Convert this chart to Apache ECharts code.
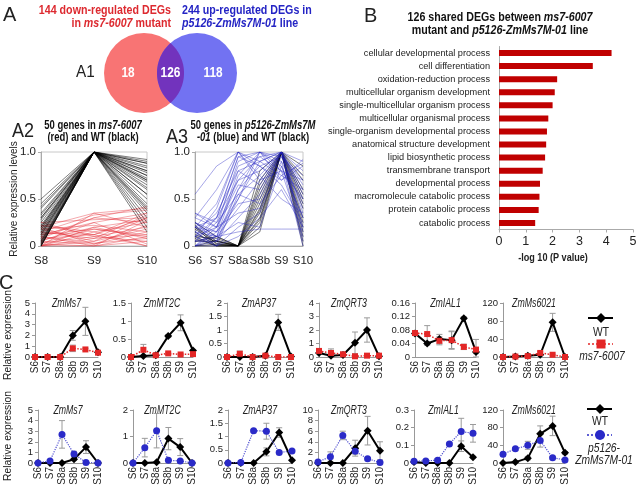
<!DOCTYPE html>
<html><head><meta charset="utf-8">
<script src="https://cdn.jsdelivr.net/npm/echarts@6/dist/echarts.min.js"></script>
<style>html,body{margin:0;padding:0;background:#fff}#c{width:640px;height:491px}</style>
</head><body><div id="c"></div>
<script>
const FONT = "'Liberation Sans',Arial,sans-serif";

// ---------- Panel A1 (Venn) ----------
const vennCounts = [18, 126, 118];

// ---------- Panel A2 ----------
const a2Stages = ['S8', 'S9', 'S10'];
const a2WT = [
  [0.50,1,0.92],[0.45,1,0.90],[0.42,1,0.88],[0.40,1,0.85],[0.35,1,0.83],[0.33,1,0.80],
  [0.30,1,0.78],[0.28,1,0.75],[0.25,1,0.72],[0.22,1,0.70],[0.20,1,0.68],[0.18,1,0.65],
  [0.17,1,0.62],[0.15,1,0.60],[0.14,1,0.55],[0.12,1,0.50],[0.10,1,0.45],[0.08,1,0.42],
  [0.06,1,0.38],[0.05,1,0.35],[0.04,1,0.30],[0.03,1,0.25],[0.02,1,0.20],[0.00,1,0.15],
  [0.00,1,0.88],[0.00,1,0.80],[0.01,1,0.70],[0.12,1,0.55],[0.20,1,0.40],[0.30,1,0.75]
];
const a2Mut = [
  [0.20,0.35,0.40],[0.15,0.33,0.38],[0.10,0.30,0.42],[0.25,0.28,0.30],[0.05,0.25,0.35],
  [0.18,0.22,0.15],[0.00,0.20,0.28],[0.12,0.18,0.10],[0.22,0.15,0.25],[0.08,0.12,0.30],
  [0.03,0.10,0.20],[0.15,0.08,0.12],[0.00,0.05,0.18],[0.10,0.03,0.08],[0.02,0.00,0.10],
  [0.25,0.10,0.05],[0.00,0.15,0.00],[0.05,0.02,0.22],[0.18,0.05,0.30],[0.00,0.00,0.05],
  [0.12,0.25,0.02],[0.03,0.18,0.12],[0.20,0.02,0.15],[0.08,0.30,0.25],[0.00,0.08,0.33],
  [0.14,0.12,0.00],[0.06,0.20,0.08],[0.00,0.35,0.20],[0.10,0.00,0.27],[0.22,0.12,0.35]
];

// ---------- Panel A3 ----------
const a3Stages = ['S6', 'S7', 'S8a', 'S8b', 'S9', 'S10'];
const a3WT = [
  [0.20,0.05,0,0.80,1,0.85],[0.10,0.00,0,0.70,1,0.70],[0.25,0.10,0,0.60,1,0.50],
  [0.05,0.05,0,0.50,1,0.30],[0.15,0.00,0,0.45,1,0.10],[0.00,0.02,0,0.40,1,0.00],
  [0.10,0.08,0,0.35,1,0.60],[0.20,0.00,0,0.30,1,0.40],[0.05,0.10,0,0.25,1,0.20],
  [0.00,0.00,0,0.20,1,0.75],[0.12,0.05,0,0.15,1,0.45],[0.18,0.03,0,0.55,1,0.05],
  [0.08,0.00,0,0.65,1,0.25],[0.00,0.06,0,0.38,1,0.55],[0.22,0.02,0,0.28,1,0.15]
];
const a3Mut = [
  [0.55,0.85,1.00,0.90,0.75,0.60],[0.30,0.60,1.00,0.85,0.95,0.70],[0.20,0.45,1.00,0.70,0.80,0.50],
  [0.10,0.30,0.95,1.00,0.85,0.30],[0.35,0.20,0.90,1.00,0.70,0.85],[0.15,0.10,0.75,1.00,0.95,0.40],
  [0.05,0.25,0.85,0.95,1.00,0.20],[0.25,0.05,0.60,1.00,0.80,0.10],[0.00,0.15,0.50,0.90,1.00,0.65],
  [0.20,0.30,0.70,0.80,1.00,0.90],[0.10,0.00,0.55,0.75,1.00,0.50],[0.30,0.20,0.65,0.60,1.00,0.35],
  [0.00,0.10,0.40,0.70,1.00,0.80],[0.15,0.35,0.80,0.65,1.00,0.55],[0.05,0.05,0.30,0.55,1.00,0.15],
  [0.25,0.15,0.45,0.50,0.95,0.75],[0.10,0.20,0.35,0.40,1.00,0.60],[0.00,0.00,0.20,0.35,0.90,0.45],
  [0.20,0.10,0.25,0.20,0.85,0.30],[0.35,0.25,0.55,0.45,0.75,0.88],[0.05,0.30,0.95,0.85,0.65,0.25],
  [0.15,0.00,0.10,0.30,0.60,0.20],[0.00,0.20,0.70,0.95,0.80,0.70],[0.10,0.40,1.00,0.75,0.50,0.35],
  [0.25,0.10,0.15,0.18,0.18,0.18],[0.00,0.05,0.50,1.00,0.90,0.00],[0.20,0.15,0.80,0.90,1.00,0.05],
  [0.05,0.10,0.60,0.85,0.70,0.92]
];

// ---------- Panel B ----------
const goTerms = [
  'cellular developmental process','cell differentiation','oxidation-reduction process',
  'multicellular organism development','single-multicellular organism process',
  'multicellular organismal process','single-organism developmental process',
  'anatomical structure development','lipid biosynthetic process','transmembrane transport',
  'developmental process','macromolecule catabolic process','protein catabolic process','catabolic process'
];
const goValues = [4.2, 3.5, 2.17, 2.08, 2.0, 1.84, 1.79, 1.76, 1.72, 1.63, 1.53, 1.51, 1.48, 1.35];
const bTicks = [0, 1, 2, 3, 4, 5];

// ---------- Panel C ----------
const cStages = ['S6', 'S7', 'S8a', 'S8b', 'S9', 'S10'];
const cGenes = ['ZmMs7', 'ZmMT2C', 'ZmAP37', 'ZmQRT3', 'ZmIAL1', 'ZmMs6021'];
const cTopMax = [5, 1.5, 2, 4, 0.16, 120];
const cTopStep = [1, 0.5, 0.5, 1, 0.04, 40];
const cBotMax = [5, 2, 2, 10, 0.3, 120];
const cBotStep = [1, 1, 0.5, 2, 0.1, 40];

const cTopWT = [
  [0,0,0,2.0,3.3,0.45],[0,0.03,0.05,0.58,0.95,0.18],[0,0,0,0.05,1.28,0.02],
  [0.3,0.1,0.15,1.05,2.0,0.05],[0.07,0.04,0.053,0.05,0.115,0.015],[0,1,3,5,77,0]
];
const cTopWTErr = [
  [0,0,0,0.45,1.3,0.1],[0,0,0,0.04,0.22,0.02],[0,0,0,0.03,0.3,0],
  [0,0.05,0.2,0.8,0.9,0],[0.005,0.005,0.014,0.027,0.004,0.005],[0,0.5,1,2,20,0]
];
const cTopMut = [
  [0,0,0,0.8,0.7,0.4],[0,0.2,0.05,0.1,0.07,0.08],[0,0.12,0,0.05,0,0],
  [0.45,0.3,0.2,0.05,0.1,0.1],[0.071,0.068,0.048,0.05,0.03,0.022],[0,1,2,9,5,0]
];
const cTopMutErr = [
  [0,0,0,0.3,0.1,0.1],[0,0.15,0.02,0.03,0.02,0.02],[0,0.1,0,0.02,0,0],
  [0.1,0.3,0.1,0.02,0.05,0.02],[0.005,0.025,0.012,0.025,0.008,0.03],[0,0.5,1,3,1,0]
];
const cBotWT = [
  [0,0,0,0.35,1.5,0],[0,0,0.03,0.92,0.6,0],[0,0,0,0.42,1.15,0.1],
  [0,0,0,2.8,6.1,2.3],[0.005,0,0,0,0.095,0.033],[0,2,11,66,84,23]
];
const cBotWTErr = [
  [0,0,0,0.1,0.6,0],[0,0,0,0.42,0.32,0],[0,0,0,0.15,0.18,0.02],
  [0,0,0,1.5,2.7,1.7],[0,0,0,0,0.03,0.005],[0,1,4,18,22,3]
];
const cBotOE = [
  [0,0.2,2.7,0.85,0.05,0],[0,0.58,1.22,0.1,0.08,0],[0,0.02,1.22,1.2,0.4,0.45],
  [0.2,1.2,5.2,2.2,0.8,0.1],[0.01,0.012,0.016,0.108,0.178,0.168],[20,32,40,51,12,7]
];
const cBotOEErr = [
  [0,0.1,1.3,0.25,0,0],[0,0.35,0.65,0.03,0.02,0],[0,0,0.05,0.3,0.05,0.05],
  [0,0.9,0.8,0.5,0.2,0],[0,0.005,0.01,0.005,0.075,0.05],[2,3,9,15,3,2]
];

// ---------- layout ----------
const cTopGrids = [[35,63],[131,62],[227,64],[319,60],[415,61],[503,62]];
const cBotGrids = [[38,60],[133,59],[228,64],[318,62],[414,59],[503,62]];
const RED = '#e32626', BLUE = '#2a2ac8', GRAY = '#9a9a9a', TXT = '#222';
const SX = 0.79;

const grid = [], xAxis = [], yAxis = [], series = [], graphic = [];

// ---------- text helpers ----------
function T(x, y, text, font, opts) {
  const o = Object.assign({align: 'left', vAlign: 'middle', fill: TXT, rot: 0, rich: null, sx: SX}, opts || {});
  const st = {text: text, fill: o.fill, font: font, align: o.align, verticalAlign: o.vAlign, textAlign: o.align, textVerticalAlign: o.vAlign};
  if (o.rich) st.rich = o.rich;
  graphic.push({type: 'text', x: x, y: y, rotation: o.rot, scaleX: o.sx, style: st});
}
function rich(size, color, lh) {
  const base = {fontFamily: FONT, fontSize: size, fill: color, color: color, lineHeight: lh};
  return {
    b: Object.assign({}, base, {fontWeight: 'bold'}),
    bi: Object.assign({}, base, {fontWeight: 'bold', fontStyle: 'italic'}),
    n: Object.assign({}, base),
    i: Object.assign({}, base, {fontStyle: 'italic'})
  };
}

// Venn grid (0)
grid.push({left: 100, top: 32, width: 140, height: 82});
xAxis.push({gridIndex: 0, type: 'value', min: 0, max: 140, show: false});
yAxis.push({gridIndex: 0, type: 'value', min: 0, max: 82, show: false});
series.push({
  type: 'custom', xAxisIndex: 0, yAxisIndex: 0, silent: true, data: [[0, 0]],
  renderItem: function (params, api) {
    const c1 = api.coord([44, 41]), c2 = api.coord([97, 41]);
    const r = api.size([40, 0])[0];
    const d = c2[0] - c1[0];
    const al = Math.acos(d / 2 / r);
    const pts = [];
    for (let k = 0; k <= 40; k++) { const t = -al + 2 * al * k / 40; pts.push([c1[0] + r * Math.cos(t), c1[1] + r * Math.sin(t)]); }
    for (let k = 0; k <= 40; k++) { const t = Math.PI - al + 2 * al * k / 40; pts.push([c2[0] + r * Math.cos(t), c2[1] + r * Math.sin(t)]); }
    const mx = (c1[0] + c2[0]) / 2;
    const tx = (x, s) => ({type: 'text', x: x, y: c1[1], scaleX: SX, style: {text: String(s), fill: '#fff', font: 'bold 15px ' + FONT, align: 'center', verticalAlign: 'middle', textAlign: 'center', textVerticalAlign: 'middle'}});
    return {type: 'group', children: [
      {type: 'circle', shape: {cx: c1[0], cy: c1[1], r: r}, style: {fill: '#f87474'}},
      {type: 'circle', shape: {cx: c2[0], cy: c2[1], r: r}, style: {fill: '#7272f2'}},
      {type: 'polygon', shape: {points: pts}, style: {fill: '#7233bd'}},
      tx(c1[0] - 16, vennCounts[0]), tx(mx, vennCounts[1]), tx(c2[0] + 16, vennCounts[2])
    ]};
  }
});

// A2 (1) and A3 (2)
function profileAxes(gi, left, width, cats) {
  grid.push({left: left, top: 152, width: width, height: 94, show: true, borderColor: '#c8c8c8', borderWidth: 1, backgroundColor: 'transparent'});
  xAxis.push({gridIndex: gi, type: 'category', data: cats, boundaryGap: false,
    axisLine: {lineStyle: {color: '#aaa'}}, axisTick: {show: false},
    axisLabel: {color: TXT, fontSize: 11.5, fontFamily: FONT, margin: 9, interval: 0}});
  yAxis.push({gridIndex: gi, type: 'value', min: 0, max: 1, interval: 0.5, splitLine: {show: false},
    axisLine: {show: true, lineStyle: {color: '#aaa'}}, axisTick: {show: true, length: 3, lineStyle: {color: '#aaa'}},
    axisLabel: {color: TXT, fontSize: 11.5, fontFamily: FONT, margin: 5, formatter: v => v === 0 ? '0' : v.toFixed(1)}});
}
profileAxes(1, 41, 106, a2Stages);
profileAxes(2, 195, 108, a3Stages);
function addProfiles(gi, rows, color) {
  rows.forEach(r => series.push({type: 'line', xAxisIndex: gi, yAxisIndex: gi, data: r, symbol: 'none', silent: true,
    lineStyle: {color: color, width: 1}}));
}
addProfiles(1, a2Mut, 'rgba(228,40,50,0.4)');
addProfiles(1, a2WT, 'rgba(0,0,0,0.5)');
addProfiles(2, a3WT, 'rgba(0,0,0,0.5)');
addProfiles(2, a3Mut, 'rgba(35,35,195,0.4)');

// B (3)
grid.push({left: 499, top: 46.5, width: 134, height: 183});
xAxis.push({gridIndex: 3, type: 'value', min: bTicks[0], max: bTicks[bTicks.length - 1], interval: 1, splitLine: {show: false},
  axisLine: {show: true, lineStyle: {color: '#aaa'}}, axisTick: {show: true, length: 3, lineStyle: {color: '#aaa'}},
  axisLabel: {color: TXT, fontSize: 12.5, fontFamily: FONT, margin: 6}});
yAxis.push({gridIndex: 3, type: 'category', data: goTerms, inverse: true,
  axisLine: {show: true, lineStyle: {color: '#aaa'}}, axisTick: {show: false},
  axisLabel: {color: TXT, fontSize: 9.2, fontFamily: FONT, margin: 9, interval: 0}});
series.push({type: 'bar', xAxisIndex: 3, yAxisIndex: 3, data: goValues, barWidth: 6, itemStyle: {color: '#c00000'}, silent: true});

// C
function errRender(params, api) {
  const x = api.value(0);
  const lo = api.coord([x, api.value(1)]), hi = api.coord([x, api.value(2)]);
  const w = 3, st = {stroke: GRAY, lineWidth: 1};
  return {type: 'group', children: [
    {type: 'line', shape: {x1: lo[0], y1: lo[1], x2: hi[0], y2: hi[1]}, style: st},
    {type: 'line', shape: {x1: lo[0] - w, y1: lo[1], x2: lo[0] + w, y2: lo[1]}, style: st},
    {type: 'line', shape: {x1: hi[0] - w, y1: hi[1], x2: hi[0] + w, y2: hi[1]}, style: st}
  ]};
}
function errData(vals, errs) {
  const out = [];
  vals.forEach((v, i) => { if (errs[i] > 0) out.push([i, Math.max(0, v - errs[i]), v + errs[i]]); });
  return out;
}
function cPanel(gi, left, width, top, height, max, step, wt, wtErr, other, otherErr, otherStyle, gene) {
  grid.push({left: left, top: top, width: width, height: height});
  xAxis.push({gridIndex: gi, type: 'category', data: cStages, boundaryGap: false,
    axisLine: {lineStyle: {color: '#999'}}, axisTick: {show: false},
    axisLabel: {color: TXT, fontSize: 10, fontFamily: FONT, rotate: 90, margin: 4, interval: 0}});
  yAxis.push({gridIndex: gi, type: 'value', min: 0, max: max, interval: step, splitLine: {show: false},
    axisLine: {show: true, lineStyle: {color: '#999'}}, axisTick: {show: true, length: 3, lineStyle: {color: '#999'}},
    axisLabel: {color: TXT, fontSize: 9.5, fontFamily: FONT, margin: 5}});
  series.push({type: 'custom', xAxisIndex: gi, yAxisIndex: gi, renderItem: errRender, data: errData(wt, wtErr), encode: {x: 0, y: [1, 2]}, z: 2, silent: true});
  series.push({type: 'custom', xAxisIndex: gi, yAxisIndex: gi, renderItem: errRender, data: errData(other, otherErr), encode: {x: 0, y: [1, 2]}, z: 2, silent: true});
  series.push({type: 'line', xAxisIndex: gi, yAxisIndex: gi, data: wt, symbol: 'diamond', symbolSize: 8, z: 3, silent: true,
    itemStyle: {color: '#000'}, lineStyle: {color: '#000', width: 2}});
  series.push(Object.assign({type: 'line', xAxisIndex: gi, yAxisIndex: gi, data: other, z: 4, silent: true}, otherStyle));
  T(left + width / 2, top + 1, gene, 'italic 12.5px ' + FONT, {align: 'center', sx: 0.7});
}
const redStyle = {symbol: 'rect', symbolSize: 6, itemStyle: {color: RED}, lineStyle: {color: RED, width: 1.5, type: 'dotted'}};
const blueStyle = {symbol: 'circle', symbolSize: 7, itemStyle: {color: BLUE}, lineStyle: {color: '#5050d0', width: 1.2, type: 'dotted'}};

for (let g = 0; g < 6; g++) {
  cPanel(4 + g, cTopGrids[g][0], cTopGrids[g][1], 303, 54, cTopMax[g], cTopStep[g], cTopWT[g], cTopWTErr[g], cTopMut[g], cTopMutErr[g], redStyle, cGenes[g]);
}
for (let g = 0; g < 6; g++) {
  cPanel(10 + g, cBotGrids[g][0], cBotGrids[g][1], 410, 53, cBotMax[g], cBotStep[g], cBotWT[g], cBotWTErr[g], cBotOE[g], cBotOEErr[g], blueStyle, cGenes[g]);
}

T(3, 15, 'A', '21px ' + FONT, {sx: 0.95});
T(364, 16, 'B', '21px ' + FONT, {sx: 0.95});
T(-1, 283, 'C', '21px ' + FONT, {sx: 0.95});
T(171, 17, '{b|144 down-regulated DEGs}\n{b|in }{bi|ms7-6007}{b| mutant}', 'bold 13px ' + FONT, {align: 'right', rich: rich(13.5, '#dd2a30', 13)});
T(182, 17, '{b|244 up-regulated DEGs in}\n{bi|p5126-ZmMs7M-01}{b| line}', 'bold 13px ' + FONT, {align: 'left', rich: rich(13.5, '#2424c4', 13)});
T(76, 72, 'A1', '17px ' + FONT, {sx: 0.9});
T(12, 131, 'A2', '20px ' + FONT, {sx: 0.9});
T(166, 137, 'A3', '20px ' + FONT, {sx: 0.9});
T(93, 132, '{b|50 genes in }{bi|ms7-6007}\n{b|(red) and WT (black)}', 'bold 12px ' + FONT, {align: 'center', rich: rich(12, '#111', 12)});
T(253, 132, '{b|50 genes in }{bi|p5126-ZmMs7M}\n{bi|-01}{b| (blue) and WT (black)}', 'bold 12px ' + FONT, {align: 'center', rich: rich(12, '#111', 12)});
T(14, 199, 'Relative expression levels', '10px ' + FONT, {align: 'center', rot: Math.PI / 2, sx: 1});
T(500, 24, '{b|126 shared DEGs between }{bi|ms7-6007}\n{b|mutant and }{bi|p5126-ZmMs7M-01}{b| line}', 'bold 13px ' + FONT, {align: 'center', rich: rich(13.5, '#111', 12.5)});
T(553, 258, '-log 10 (P value)', 'bold 11.5px ' + FONT, {align: 'center'});
T(8, 335, 'Relative expression', '10.3px ' + FONT, {align: 'center', rot: Math.PI / 2, sx: 1});
T(8, 436, 'Relative expression', '10.3px ' + FONT, {align: 'center', rot: Math.PI / 2, sx: 1});

// C legends
graphic.push({type: 'line', shape: {x1: 588, y1: 318, x2: 613, y2: 318}, style: {stroke: '#000', lineWidth: 2}});
graphic.push({type: 'polygon', shape: {points: [[601, 313], [606, 318], [601, 323], [596, 318]]}, style: {fill: '#000'}});
T(601, 332, 'WT', '13px ' + FONT, {align: 'center'});
graphic.push({type: 'line', shape: {x1: 588, y1: 344, x2: 613, y2: 344}, style: {stroke: RED, lineWidth: 1.5, lineDash: [2, 2]}});
graphic.push({type: 'rect', shape: {x: 596.5, y: 339.5, width: 9, height: 9}, style: {fill: RED}});
T(602, 356, 'ms7-6007', 'italic 13px ' + FONT, {align: 'center'});
graphic.push({type: 'line', shape: {x1: 587, y1: 409, x2: 612, y2: 409}, style: {stroke: '#000', lineWidth: 2}});
graphic.push({type: 'polygon', shape: {points: [[600, 404], [605, 409], [600, 414], [595, 409]]}, style: {fill: '#000'}});
T(600, 421, 'WT', '13px ' + FONT, {align: 'center'});
graphic.push({type: 'line', shape: {x1: 587, y1: 435, x2: 612, y2: 435}, style: {stroke: BLUE, lineWidth: 1.5, lineDash: [2, 2]}});
graphic.push({type: 'circle', shape: {cx: 600, cy: 435, r: 5}, style: {fill: BLUE}});
T(604, 448, 'p5126-', 'italic 13px ' + FONT, {align: 'center'});
T(604, 460, 'ZmMs7M-01', 'italic 13px ' + FONT, {align: 'center'});

const chart = echarts.init(document.getElementById('c'), null, {renderer: 'canvas'});
chart.setOption({animation: false, backgroundColor: '#fff', grid: grid, xAxis: xAxis, yAxis: yAxis, series: series, graphic: graphic});
</script></body></html>
